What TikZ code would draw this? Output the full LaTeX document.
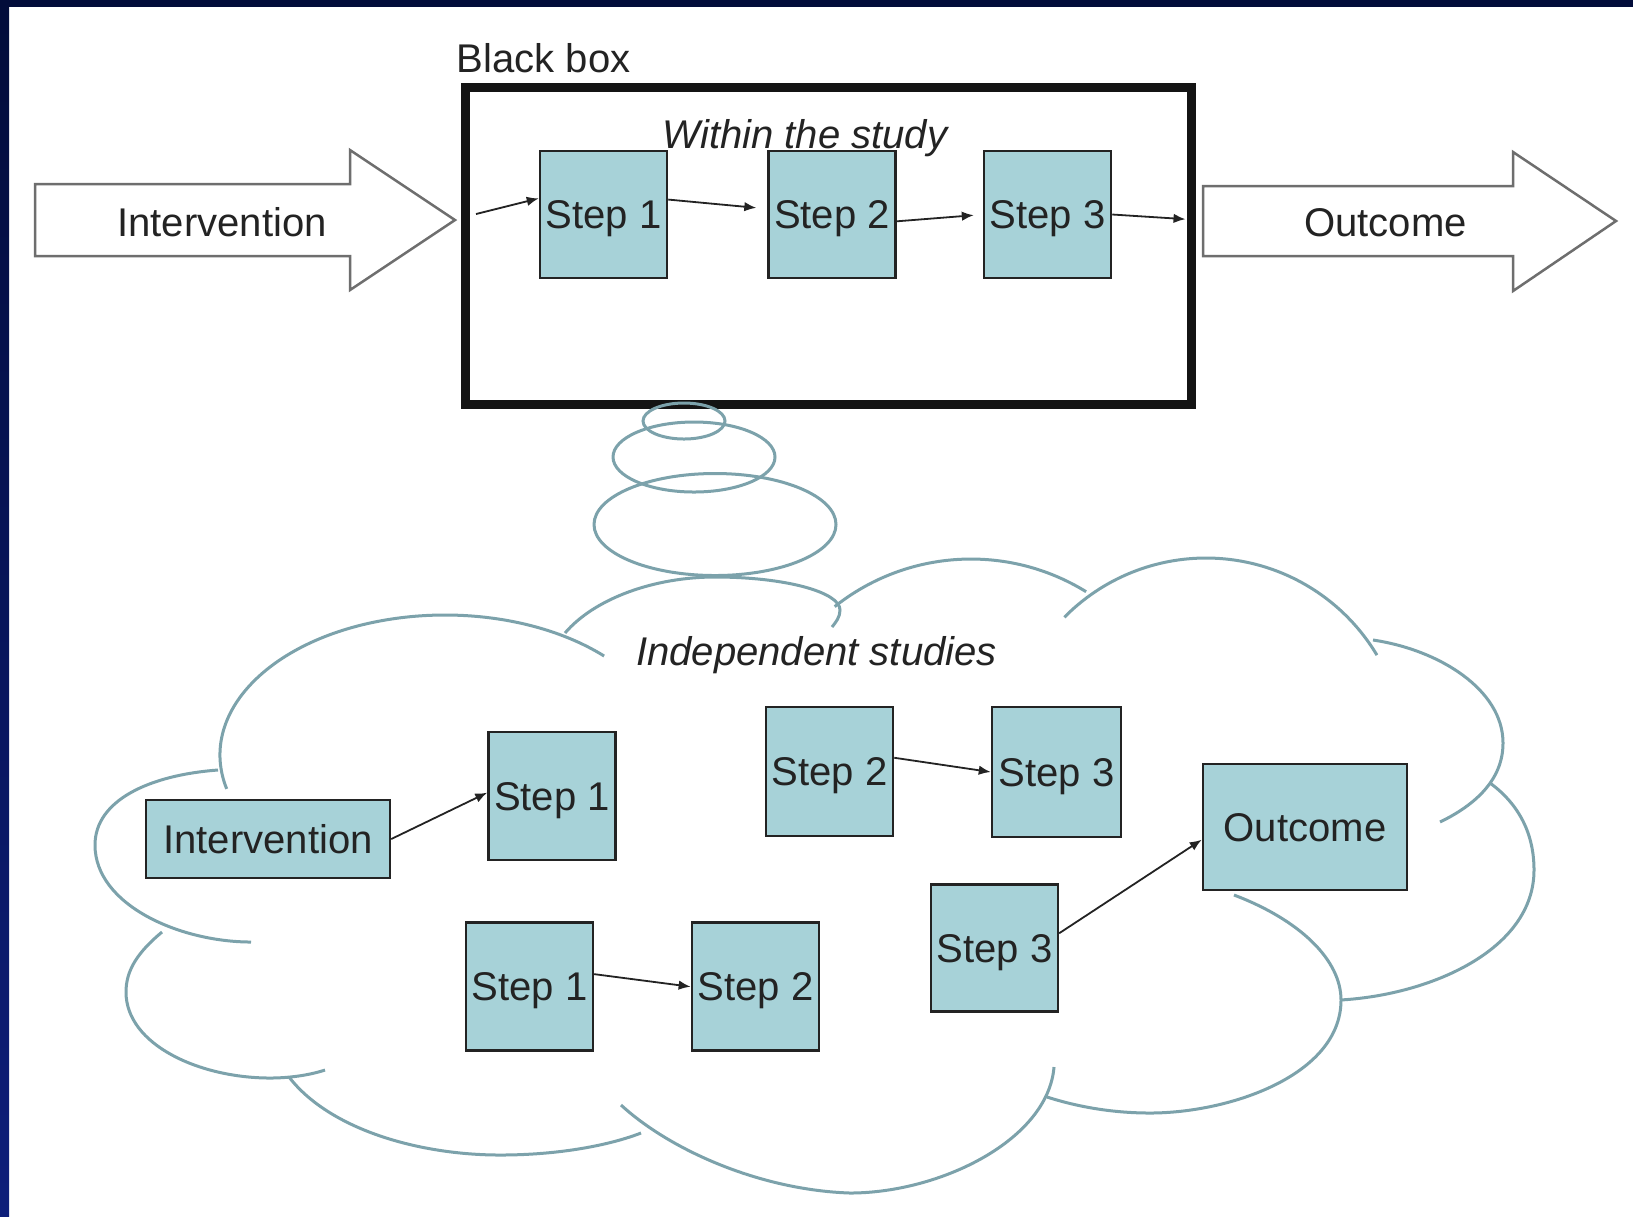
\documentclass[tikz,border=0pt]{standalone}
\usepackage{fontspec}
\setmainfont{Liberation Sans}
\usetikzlibrary{arrows.meta}
\usetikzlibrary{positioning}

\definecolor{stepfill}{RGB}{167,210,216}
\definecolor{cloudgray}{RGB}{124,162,171}
\definecolor{navytop}{RGB}{2,12,58}
\definecolor{navybot}{RGB}{14,30,122}
\definecolor{arrowgray}{RGB}{110,110,110}
\definecolor{inkgray}{RGB}{35,35,35}

\begin{document}
\begin{tikzpicture}
		[
		x=0.1mm, y=-0.1mm,
		font=\fontsize{11.4}{13}\selectfont,
		text=inkgray,
		stepbox/.style={rectangle,draw=inkgray,line width=0.25mm,fill=stepfill,
			minimum width=12.7mm,minimum height=12.7mm,inner sep=0pt,text depth=0pt},
		link/.style={draw=inkgray,line width=0.18mm,-{Latex[length=1.2mm,width=0.95mm]}},
		bigarrow/.style={draw=arrowgray,line width=0.25mm,fill=white,line join=miter},
		cloud line/.style={draw=cloudgray,line width=0.3mm},
		slanted/.style={font=\fontsize{11.4}{13}\selectfont\itshape}
		]
		
		% Page and the dark frame
		\useasboundingbox (0,0) rectangle (1633,1216);
		\fill[white] (0,0) rectangle (1633,1216);
		\fill[navytop] (0,0) rectangle (1633,7);
		\shade[top color=navytop,bottom color=navybot] (0,0) rectangle (9,1216);
		
		% Big arrows outside the black box
		\draw[bigarrow] (35,184) -- (350,184) -- (350,150) -- (455,220) -- (350,290) -- (350,256) -- (35,256) -- cycle;
		\node[anchor=base] (intvtext) at (222,236.5) {Intervention};
		\draw[bigarrow] (1203,186) -- (1513,186) -- (1513,152) -- (1616,221) -- (1513,291) -- (1513,256) -- (1203,256) -- cycle;
		\node[anchor=base] (outtext) at (1385.5,236) {Outcome};
		
		% The black box
		\node[rectangle,draw=black!92,line width=0.9mm,minimum width=72.6mm,minimum height=31.7mm,inner sep=0pt] (bb) at (828,245.5) {};
		\node[anchor=base west,inner sep=0pt] (bblabel) at (456,72) {Black box};
		
		% Steps within the study
		\node[stepbox] (t1) at (603.5,214.5) {Step 1};
		\node[stepbox,right=9.9mm of t1] (t2) {Step 2};
		\node[stepbox,right=8.6mm of t2] (t3) {Step 3};
		\node[slanted,anchor=base] (within) at (805,148) {Within the study};
		
		\coordinate (bbin) at (476,214);
		\draw[link] (bbin) -- (t1.166);
		\draw[link,shorten >=1.1mm] (t1.13) -- (t2.175);
		\draw[link,shorten >=0.9mm] (t2.-6) -- (t3.west);
		\draw[link,shorten >=1.0mm] (t3.east) -- (bb.4);
		
		% Thought bubbles
		\draw[cloud line] (684,421) ellipse [x radius=41,y radius=18];
		\draw[cloud line] (694,457) ellipse [x radius=81,y radius=35];
		\draw[cloud line] (715,524.5) ellipse [x radius=121,y radius=51];
		
		% The cloud, lobe by lobe
		% big left lobe
		\draw[cloud line] (445,755) ++(166:225 and 140) arc[start angle=166,end angle=315,x radius=225,y radius=140];
		% top center
		\draw[cloud line] (565,633) .. controls (595,598) and (655,577) .. (715,577)
			.. controls (785,577) and (840,592) .. (840,610)
			.. controls (840,617) and (836,622) .. (832,627);
		% top center right
		\draw[cloud line] (971,778) ++(231.5:219) arc[start angle=231.5,end angle=301.7,radius=219];
		% top right
		\draw[cloud line] (1206,757) ++(224.6:199) arc[start angle=224.6,end angle=329.2,radius=199];
		% right top
		\draw[cloud line] (1373,640) .. controls (1440,650) and (1503,690) .. (1503,743)
			.. controls (1503,780) and (1475,805) .. (1440,822);
		% right
		\draw[cloud line] (1490,783) .. controls (1520,805) and (1534,835) .. (1534,870)
			.. controls (1534,950) and (1430,995) .. (1340,1000);
		% bottom right
		\draw[cloud line] (1234,895) .. controls (1300,920) and (1341,960) .. (1341,1000)
			.. controls (1341,1075) and (1230,1113) .. (1150,1113)
			.. controls (1110,1113) and (1075,1106) .. (1047,1097);
		% bottom center
		\draw[cloud line] (1054,1067) .. controls (1048,1140) and (940,1193) .. (850,1193)
			.. controls (760,1190) and (670,1150) .. (621,1105);
		% bottom left
		\draw[cloud line] (289,1077) .. controls (330,1130) and (420,1155) .. (500,1155)
			.. controls (560,1155) and (610,1145) .. (641,1133);
		% left bottom
		\draw[cloud line] (162,932) .. controls (138,952) and (126,970) .. (126,992)
			.. controls (126,1045) and (200,1078) .. (270,1078)
			.. controls (290,1078) and (310,1075) .. (325,1070);
		% far left
		\draw[cloud line] (218,770) .. controls (150,775) and (95,800) .. (95,845)
			.. controls (95,905) and (180,942) .. (251,942);
		
		\node[slanted,anchor=base] (indep) at (816.5,665) {Independent studies};
		
		% Steps from independent studies
		\node[stepbox,minimum width=24.4mm,minimum height=7.8mm] (ci) at (268,839) {Intervention};
		\node[stepbox,minimum height=12.8mm] (c1) at (552,796) {Step 1};
		\node[stepbox,minimum height=12.9mm] (c2) at (829.5,771.5) {Step 2};
		\node[stepbox,minimum width=12.9mm,minimum height=13mm] (c3) at (1056.5,772) {Step 3};
		\node[stepbox,minimum width=20.4mm,minimum height=12.6mm] (co) at (1305,827) {Outcome};
		\node[stepbox,minimum height=12.8mm] (l1) at (529.4,986.7) {Step 1};
		\node[stepbox,minimum height=12.8mm] (l2) at (755.4,986.7) {Step 2};
		\node[stepbox] (l3) at (994.4,948.2) {Step 3};
		
		\draw[link] (ci.east) -- (c1.177);
		\draw[link] (c2.12) -- (c3.west);
		\draw[link] (l1.11) -- (l2.west);
		\draw[link] (l3.13) -- (co.187);
\end{tikzpicture}
\end{document}
